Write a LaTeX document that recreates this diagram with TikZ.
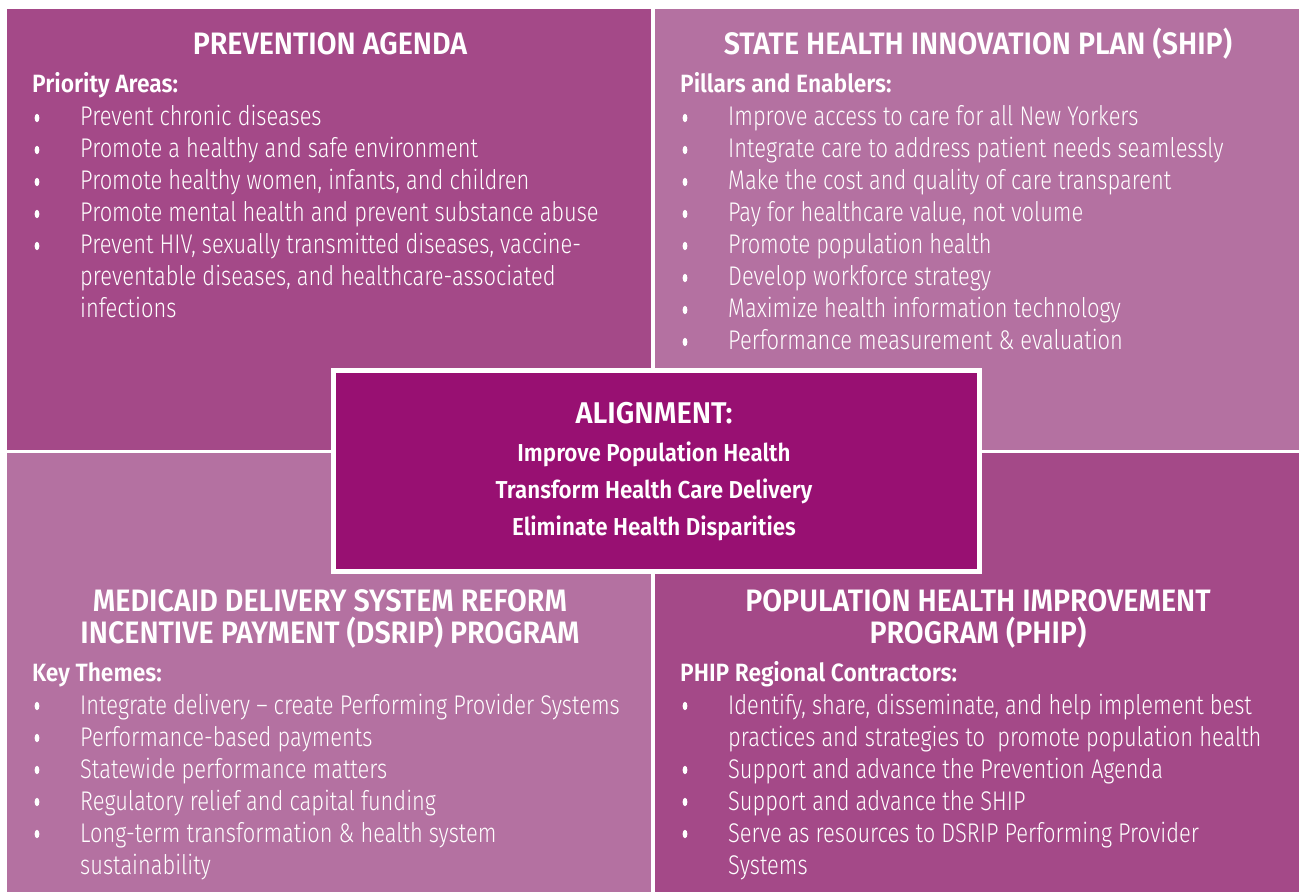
\documentclass[tikz,border=0pt]{standalone}
\usepackage{fontspec}
\IfFontExistsTF{Fira Sans Light}
 {\newfontfamily\bodyfont[FakeStretch=0.81]{Fira Sans Light}}
 {\newfontfamily\bodyfont[FakeStretch=0.81]{Fira Sans}}
\IfFontExistsTF{Fira Sans SemiBold}
 {\newfontfamily\headfontx{Fira Sans SemiBold}\newcommand\headfont{\headfontx}}
 {\IfFontExistsTF{Fira Sans Medium}
   {\newfontfamily\headfontx{Fira Sans Medium}\newcommand\headfont{\headfontx}}
   {\newfontfamily\headfontx{Fira Sans}\newcommand\headfont{\headfontx\bfseries}}}
\newcommand\stretchfont[1]{\addfontfeatures{FakeStretch=#1}}
\definecolor{qdark}{HTML}{A44988}
\definecolor{qlight}{HTML}{B471A1}
\definecolor{qcenter}{HTML}{981072}
\tikzset{
  quad/.style={draw=none, inner sep=0pt, anchor=north west, minimum width=644pt, minimum height=441pt},
  body/.style={font=\bodyfont\fontsize{27}{30}\selectfont, text=white, inner sep=0pt, anchor=base west},
  qtitle/.style={font=\headfont\stretchfont{0.925}\fontsize{31}{32}\selectfont, text=white, inner sep=0pt, anchor=base},
  qsub/.style={font=\headfont\stretchfont{0.912}\fontsize{25}{28}\selectfont, text=white, inner sep=0pt, anchor=base west},
  ctitle/.style={font=\headfont\stretchfont{0.967}\fontsize{30}{32}\selectfont, text=white, inner sep=0pt, anchor=base},
  cline/.style={font=\headfont\stretchfont{0.914}\fontsize{24.5}{30}\selectfont, text=white, inner sep=0pt, anchor=base},
  centerbox/.style={fill=qcenter, draw=white, line width=5pt, inner sep=0pt, anchor=north west, minimum width=646pt, minimum height=200pt},
}
\newcommand\blt[2]{\fill[white] (#1,#2) ellipse [x radius=2.4pt, y radius=4.2pt];}
\begin{document}
\begin{tikzpicture}[x=1pt,y=-1pt]
\useasboundingbox (0,0) rectangle (1299,893);
\fill[white] (0,0) rectangle (1299,893);
% quadrants
\node[quad, fill=qdark] (tl) at (7,9) {};
\node[quad, fill=qlight] (tr) at (655,9) {};
\node[quad, fill=qlight, minimum height=439pt] (bl) at (7,453) {};
\node[quad, fill=qdark, minimum height=439pt] (br) at (655,453) {};

% top left
\node[qtitle] (tlT) at (330,55) {PREVENTION AGENDA};
\node[qsub] (tlS) at (32,93) {Priority Areas:};
\foreach \yy in {126,158,190,222,254} {\blt{37}{\yy-8}}
\node[body] (tl1) at (80,126) {Prevent chronic diseases};
\node[body] (tl2) at (80,158) {Promote a healthy and safe environment};
\node[body] (tl3) at (80,190) {Promote healthy women, infants, and children};
\node[body] (tl4) at (80,222) {Promote mental health and prevent substance abuse};
\node[body] (tl5a) at (80,254) {Prevent HIV, sexually transmitted diseases, vaccine-};
\node[body] (tl5b) at (80,286) {preventable diseases, and healthcare-associated};
\node[body] (tl5c) at (80,318) {infections};

% top right
\node[qtitle] (trT) at (978,55) {STATE HEALTH INNOVATION PLAN (SHIP)};
\node[qsub] (trS) at (680,93) {Pillars and Enablers:};
\foreach \yy in {126,158,190,222,254,286,318,350} {\blt{685}{\yy-8}}
\node[body] (tr1) at (728,126) {Improve access to care for all New Yorkers};
\node[body] (tr2) at (728,158) {Integrate care to address patient needs seamlessly};
\node[body] (tr3) at (728,190) {Make the cost and quality of care transparent};
\node[body] (tr4) at (728,222) {Pay for healthcare value, not volume};
\node[body] (tr5) at (728,254) {Promote population health};
\node[body] (tr6) at (728,286) {Develop workforce strategy};
\node[body] (tr7) at (728,318) {Maximize health information technology};
\node[body] (tr8) at (728,350) {Performance measurement \& evaluation};

% bottom left
\node[qtitle] (blT1) at (330,611) {MEDICAID DELIVERY SYSTEM REFORM};
\node[qtitle] (blT2) at (330,643) {INCENTIVE PAYMENT (DSRIP) PROGRAM};
\node[qsub] (blS) at (32,681) {Key Themes:};
\foreach \yy in {714,746,778,810,842} {\blt{37}{\yy-8}}
\node[body] (bl1) at (80,714) {Integrate delivery – create Performing Provider Systems};
\node[body] (bl2) at (80,746) {Performance-based payments};
\node[body] (bl3) at (80,778) {Statewide performance matters};
\node[body] (bl4) at (80,810) {Regulatory relief and capital funding};
\node[body] (bl5a) at (80,842) {Long-term transformation \& health system};
\node[body] (bl5b) at (80,874) {sustainability};

% bottom right
\node[qtitle] (brT1) at (978,611) {POPULATION HEALTH IMPROVEMENT};
\node[qtitle] (brT2) at (978,643) {PROGRAM (PHIP)};
\node[qsub] (brS) at (680,681) {PHIP Regional Contractors:};
\foreach \yy in {714,778,810,842} {\blt{685}{\yy-8}}
\node[body] (br1a) at (728,714) {Identify, share, disseminate, and help implement best};
\node[body] (br1b) at (728,746) {practices and strategies to \ promote population health};
\node[body] (br2) at (728,778) {Support and advance the Prevention Agenda};
\node[body] (br3) at (728,810) {Support and advance the SHIP};
\node[body] (br4a) at (728,842) {Serve as resources to DSRIP Performing Provider};
\node[body] (br4b) at (728,874) {Systems};

% center alignment box
\node[centerbox] (ctr) at (330.5,368.5) {};
\node[ctitle] (cT) at (654,423) {ALIGNMENT:};
\node[cline] (c1) at (654,461) {Improve Population Health};
\node[cline] (c2) at (654,498) {Transform Health Care Delivery};
\node[cline] (c3) at (654,535) {Eliminate Health Disparities};
\end{tikzpicture}
\end{document}
